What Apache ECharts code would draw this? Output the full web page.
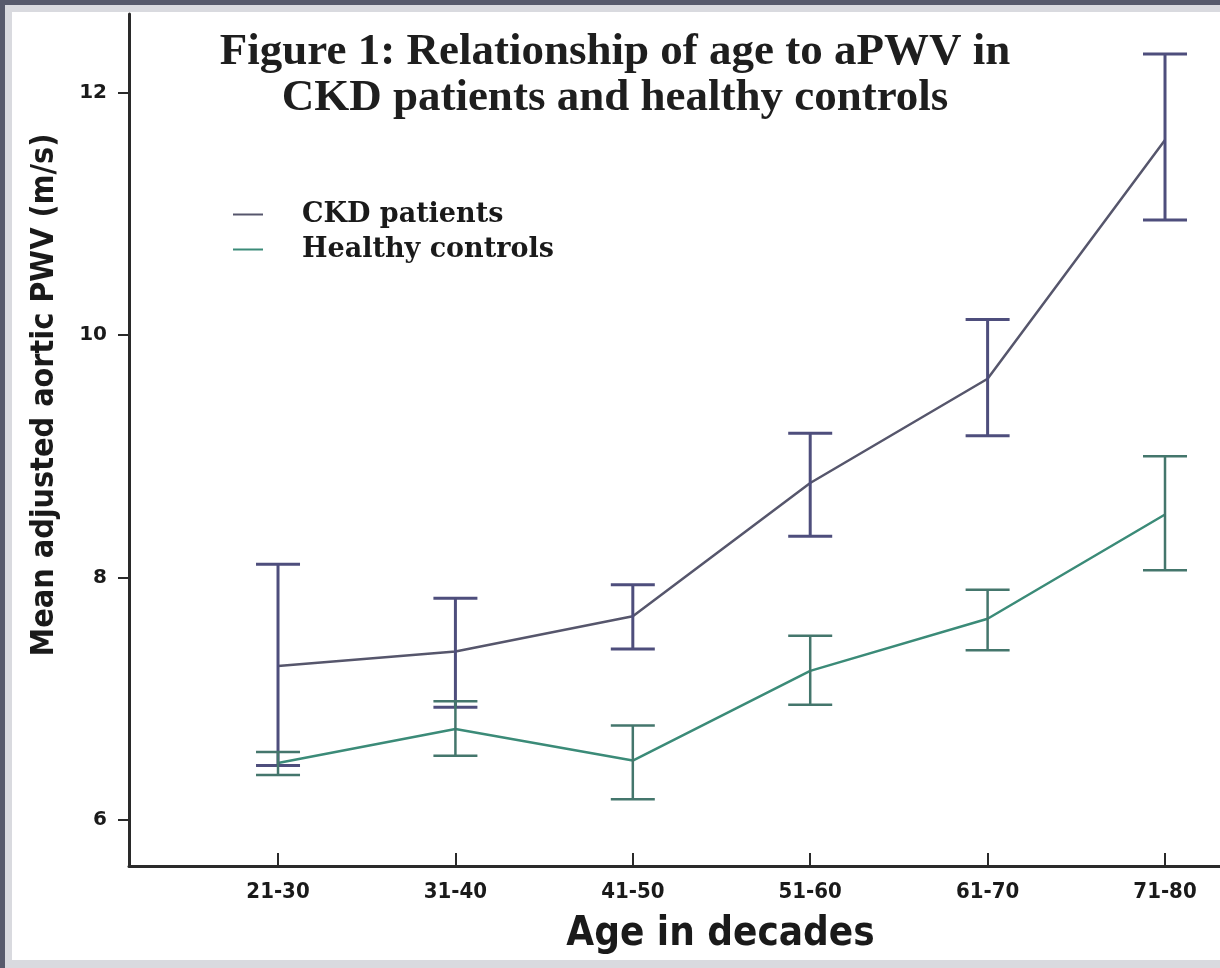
<!DOCTYPE html>
<html>
<head>
<meta charset="utf-8">
<script src="https://cdn.jsdelivr.net/npm/echarts@6/dist/echarts.min.js"></script>
<style>
  html, body { margin: 0; padding: 0; }
  body { width: 1220px; height: 968px; background: #575a6c; position: relative; overflow: hidden; }
  #frame { position: absolute; left: 5px; top: 5px; width: 1215px; height: 963px; background: #d9dadf; }
  #chart { position: absolute; left: 12px; top: 12px; width: 1208px; height: 948px; background: #ffffff; }
</style>
</head>
<body>
<div id="frame"></div>
<div id="chart"></div>
<script>
const categories = ['21-30', '31-40', '41-50', '51-60', '61-70', '71-80'];
const ckdMean = [7.27, 7.39, 7.68, 8.78, 9.64, 11.61];
const ckdLow  = [6.45, 6.93, 7.41, 8.34, 9.17, 10.95];
const ckdHigh = [8.11, 7.83, 7.94, 9.19, 10.13, 12.32];
const hcMean  = [6.47, 6.75, 6.49, 7.23, 7.66, 8.52];
const hcLow   = [6.37, 6.53, 6.17, 6.95, 7.40, 8.06];
const hcHigh  = [6.56, 6.98, 6.78, 7.52, 7.90, 9.00];
const yTicks = [6, 8, 10, 12];

const ckdLine = '#56566c';
const ckdBar = '#4e4e7c';
const hcLine = '#3b8b78';
const hcBar = '#44766c';

function errBar(color, width) {
  return function (params, api) {
    const x = api.value(0);
    const lo = api.coord([x, api.value(1)]);
    const hi = api.coord([x, api.value(2)]);
    const half = 22;
    const st = { stroke: color, lineWidth: width };
    return {
      type: 'group',
      children: [
        { type: 'line', shape: { x1: lo[0], y1: lo[1], x2: hi[0], y2: hi[1] }, style: st },
        { type: 'line', shape: { x1: lo[0] - half, y1: lo[1], x2: lo[0] + half, y2: lo[1] }, style: st },
        { type: 'line', shape: { x1: hi[0] - half, y1: hi[1], x2: hi[0] + half, y2: hi[1] }, style: st }
      ]
    };
  };
}

const chart = echarts.init(document.getElementById('chart'), null, { renderer: 'canvas' });
chart.setOption({
  animation: false,
  backgroundColor: '#ffffff',
  title: {
    text: 'Figure 1: Relationship of age to aPWV in\nCKD patients and healthy controls',
    left: 603,
    top: 17,
    padding: 0,
    textAlign: 'center',
    textStyle: {
      fontFamily: 'Liberation Serif, serif',
      fontSize: 45,
      fontWeight: 'bold',
      color: '#1e1e1e',
      lineHeight: 46
    }
  },
  legend: {
    orient: 'vertical',
    left: 221,
    top: 189,
    padding: 0,
    icon: 'rect',
    itemWidth: 30,
    itemHeight: 2,
    itemGap: 8,
    data: ['CKD patients', 'Healthy controls'],
    textStyle: {
      fontFamily: 'DejaVu Serif, serif',
      fontWeight: 'bold',
      fontSize: 27,
      color: '#1a1a1a',
      padding: [0, 0, 0, 34]
    }
  },
  grid: { left: 117, right: 0, top: 2, bottom: 86, containLabel: false },
  xAxis: {
    type: 'value',
    min: -0.84,
    max: 5.31,
    name: 'Age in decades',
    nameLocation: 'middle',
    nameGap: 49,
    nameTextStyle: {
      fontFamily: 'DejaVu Sans Condensed, sans-serif',
      fontWeight: 'bold',
      fontSize: 40,
      color: '#1a1a1a',
      padding: [0, 0, 0, 92]
    },
    axisLine: { onZero: false, lineStyle: { color: '#2a2a2a', width: 3 } },
    axisTick: { show: true, inside: true, length: 13, customValues: [0, 1, 2, 3, 4, 5], lineStyle: { color: '#2a2a2a', width: 2 } },
    axisLabel: {
      customValues: [0, 1, 2, 3, 4, 5],
      formatter: function (v) { return categories[Math.round(v)] || ''; },
      fontFamily: 'DejaVu Sans Condensed, sans-serif',
      fontWeight: 'bold',
      fontSize: 22,
      color: '#1a1a1a',
      margin: 15
    },
    splitLine: { show: false }
  },
  yAxis: {
    type: 'value',
    min: 5.62,
    max: 12.65,
    name: 'Mean adjusted aortic PWV (m/s)',
    nameLocation: 'middle',
    nameRotate: 90,
    nameGap: 68,
    nameTextStyle: {
      fontFamily: 'DejaVu Sans Condensed, sans-serif',
      fontWeight: 'bold',
      fontSize: 32,
      color: '#1a1a1a',
      padding: [0, 0, 0, 90]
    },
    axisLine: { show: true, onZero: false, lineStyle: { color: '#2a2a2a', width: 3 } },
    axisTick: { show: true, length: 11, customValues: yTicks, lineStyle: { color: '#2a2a2a', width: 2 } },
    axisLabel: {
      customValues: yTicks,
      fontFamily: 'DejaVu Sans, sans-serif',
      fontWeight: 'bold',
      fontSize: 20,
      color: '#1a1a1a',
      margin: 22
    },
    splitLine: { show: false }
  },
  series: [
    {
      name: 'CKD patients',
      type: 'line',
      data: ckdMean.map((v, i) => [i, v]),
      symbol: 'none',
      lineStyle: { color: ckdLine, width: 2.5 },
      itemStyle: { color: ckdLine },
      z: 3
    },
    {
      name: 'Healthy controls',
      type: 'line',
      data: hcMean.map((v, i) => [i, v]),
      symbol: 'none',
      lineStyle: { color: hcLine, width: 2.5 },
      itemStyle: { color: hcLine },
      z: 3
    },
    {
      name: 'CKD patients',
      type: 'custom',
      renderItem: errBar(ckdBar, 3),
      data: ckdMean.map((v, i) => [i, ckdLow[i], ckdHigh[i]]),
      encode: { x: 0, y: [1, 2] },
      z: 4
    },
    {
      name: 'Healthy controls',
      type: 'custom',
      renderItem: errBar(hcBar, 2.5),
      data: hcMean.map((v, i) => [i, hcLow[i], hcHigh[i]]),
      encode: { x: 0, y: [1, 2] },
      z: 4
    }
  ]
});
</script>
</body>
</html>
